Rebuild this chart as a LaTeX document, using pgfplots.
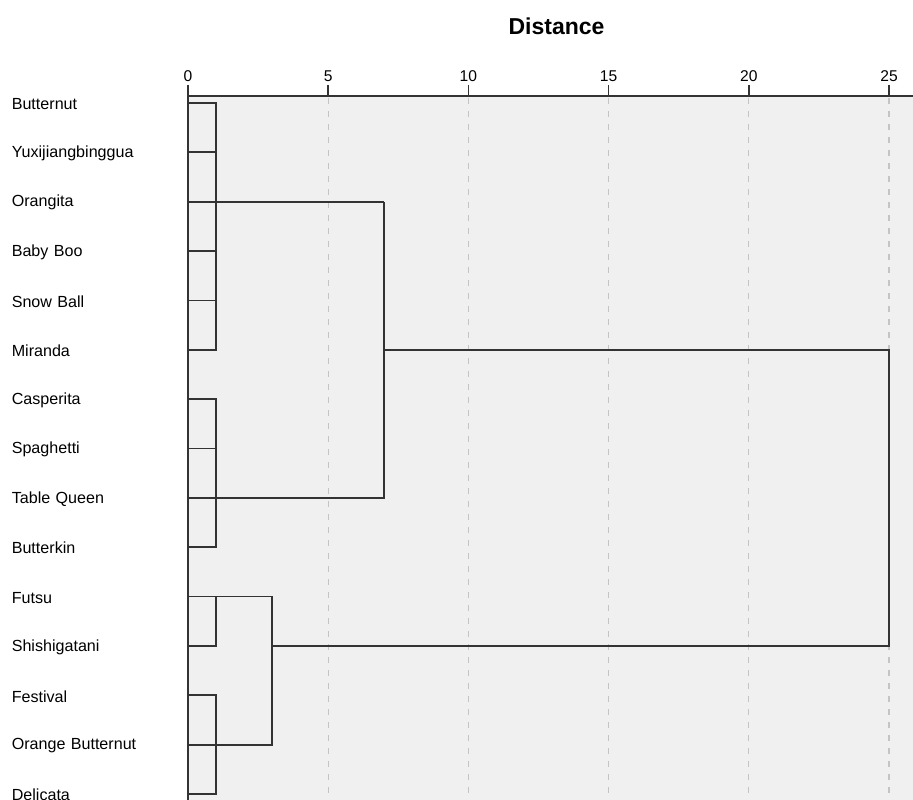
\documentclass[border=0pt]{standalone}
\usepackage{pgfplots}
\pgfplotsset{compat=1.18}
\usepackage{fontspec}
\setmainfont{Liberation Sans}
\definecolor{bggray}{HTML}{F0F0F0}
\definecolor{gridgray}{HTML}{C4C4C4}
\definecolor{linedark}{HTML}{333333}
\begin{document}
\begin{tikzpicture}
\useasboundingbox (0,0) rectangle (913pt,-800pt);
\clip (0,0) rectangle (913pt,-800pt);
\begin{axis}[
  at={(188pt,-96pt)}, anchor=north west,
  scale only axis, width=725pt, height=722.7pt,
  xmin=0, xmax=25.856, ymin=-14.5, ymax=0.142,
  axis x line*=top, axis y line*=left,
  axis line style={-, linedark, line width=1.8pt},
  axis background/.style={fill=bggray},
  xtick={0,5,10,15,20,25},
  xtick pos=upper,
  tick align=outside,
  x tick style={linedark, line width=1.5pt},
  major tick length=11pt,
  xmajorgrids=true,
  major grid style={gridgray, line width=1.2pt, dash pattern=on 6pt off 7pt},
  /pgf/number format/assume math mode=true,
  xticklabel style={font=\fontsize{15.6}{18}\selectfont, inner sep=2pt, yshift=1pt},
  ytick={0,-1,-2,-3,-4,-5,-6,-7,-8,-9,-10,-11,-12,-13,-14},
  yticklabels={Butternut,Yuxijiangbinggua,Orangita,Baby Boo,Snow Ball,Miranda,Casperita,Spaghetti,Table Queen,Butterkin,Futsu,Shishigatani,Festival,Orange Butternut,Delicata},
  y tick style={draw=none},
  yticklabel style={font=\fontsize{16.1}{18}\selectfont, anchor=east, text width=165pt, align=left, inner sep=0pt, yshift=-1pt},
  title={\textbf{Distance}},
  title style={at={(axis description cs:0.5,1)}, anchor=base, yshift=55pt, xshift=6pt, font=\fontsize{23}{26}\selectfont},
  clip=false,
]
% dendrogram branches
\addplot[linedark, line width=1.8pt] coordinates {(0,0) (1,0) (1,-5) (0,-5)};
\addplot[linedark, line width=1.8pt] coordinates {(0,-1) (1,-1)};
\addplot[linedark, line width=1.8pt] coordinates {(0,-2) (7,-2)};
\addplot[linedark, line width=1.8pt] coordinates {(0,-3) (1,-3)};
\addplot[linedark, line width=1.8pt] coordinates {(0,-4) (1,-4)};
\addplot[linedark, line width=1.8pt] coordinates {(0,-6) (1,-6) (1,-9) (0,-9)};
\addplot[linedark, line width=1.8pt] coordinates {(0,-7) (1,-7)};
\addplot[linedark, line width=1.8pt] coordinates {(0,-8) (7,-8) (7,-2)};
\addplot[linedark, line width=1.8pt] coordinates {(7,-5) (25,-5) (25,-11) (3,-11)};
\addplot[linedark, line width=1.8pt] coordinates {(0,-10) (3,-10) (3,-13) (0,-13)};
\addplot[linedark, line width=1.8pt] coordinates {(1,-10) (1,-11) (0,-11)};
\addplot[linedark, line width=1.8pt] coordinates {(0,-12) (1,-12) (1,-14) (0,-14)};
\end{axis}
\end{tikzpicture}
\end{document}
